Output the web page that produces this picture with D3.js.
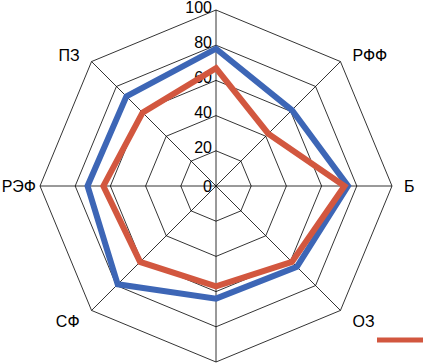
<!DOCTYPE html>
<html>
<head>
<meta charset="utf-8">
<script src="https://cdn.jsdelivr.net/npm/d3@7"></script>
<style>
  body { margin: 0; background: #fff; }
  text { font-family: "Liberation Sans Narrow", "Arial Narrow", "Liberation Sans", sans-serif; font-size: 16px; fill: #000; }
</style>
</head>
<body>
<div id="chart"></div>
<script>
// categories, clockwise from the top axis (top and bottom axes carry no label)
const categories = ["", "РФФ", "Б", "ОЗ", "", "СФ", "РЭФ", "ПЗ"];
const seriesBlue = [78, 61, 75, 65, 64, 79, 73, 72];
const seriesRed = [67, 42, 73, 61, 57, 61, 64, 59];
const ticks = [0, 20, 40, 60, 80, 100];

const width = 423;
const height = 364;
const cx = 216;
const cy = 186;
const radius = 176;

const svg = d3.select("#chart")
    .append("svg")
    .attr("width", width)
    .attr("height", height);

const g = svg.append("g")
    .attr("transform", `translate(${cx}, ${cy})`);

// échelle radiale
const scaleR = d3.scaleLinear()
    .domain([0, 100])
    .range([0, radius]);

// angle de chaque axe (0 = en haut, sens horaire)
const angle = i => i * 2 * Math.PI / categories.length;

const point = (v, i) => [
    scaleR(v) * Math.sin(angle(i)),
    -scaleR(v) * Math.cos(angle(i))
];

// grille octogonale
ticks.filter(t => t > 0).forEach(t => {
    g.append("polygon")
        .attr("points", categories.map((c, i) => point(t, i).join(",")).join(" "))
        .attr("fill", "none")
        .attr("stroke", "#000")
        .attr("stroke-width", 0.8);
});

// rayons
categories.forEach((c, i) => {
    const [x, y] = point(100, i);
    g.append("line")
        .attr("x1", 0).attr("y1", 0)
        .attr("x2", x).attr("y2", y)
        .attr("stroke", "#000")
        .attr("stroke-width", 0.8);
});

// valeurs de l'axe
g.selectAll(".tick")
    .data(ticks)
    .join("text")
    .attr("class", "tick")
    .attr("x", -4)
    .attr("y", d => -scaleR(d) - (d > 0 ? 3 : 0))
    .attr("dy", "0.35em")
    .attr("text-anchor", "end")
    .text(d => d);

// séries
const line = d3.lineRadial()
    .angle((d, i) => angle(i))
    .radius(d => scaleR(d))
    .curve(d3.curveLinearClosed);

[[seriesBlue, "#3d66b6"], [seriesRed, "#d2573f"]].forEach(([s, col]) => {
    g.append("path")
        .attr("d", line(s))
        .attr("fill", "none")
        .attr("stroke", col)
        .attr("stroke-width", 6)
        .attr("stroke-linejoin", "miter");
});

// libellés des catégories
categories.forEach((c, i) => {
    if (!c) return;
    const [x, y] = point(100, i);
    const s = Math.sin(angle(i));
    const co = -Math.cos(angle(i));
    const horiz = Math.abs(co) < 0.1;
    const gap = horiz && s < 0 ? 4 : 12;
    g.append("text")
        .attr("x", x + (s > 0.1 ? gap : s < -0.1 ? -gap : 0))
        .attr("y", y + (co < -0.1 ? -6 : co > 0.1 ? 11 : 0))
        .attr("dy", "0.35em")
        .attr("text-anchor", s > 0.1 ? "start" : s < -0.1 ? "end" : "middle")
        .text(c);
});

// légende (seule la ligne rouge est visible)
svg.append("line")
    .attr("x1", 377).attr("x2", 423)
    .attr("y1", 340).attr("y2", 340)
    .attr("stroke", "#d2573f")
    .attr("stroke-width", 5);
</script>
</body>
</html>
